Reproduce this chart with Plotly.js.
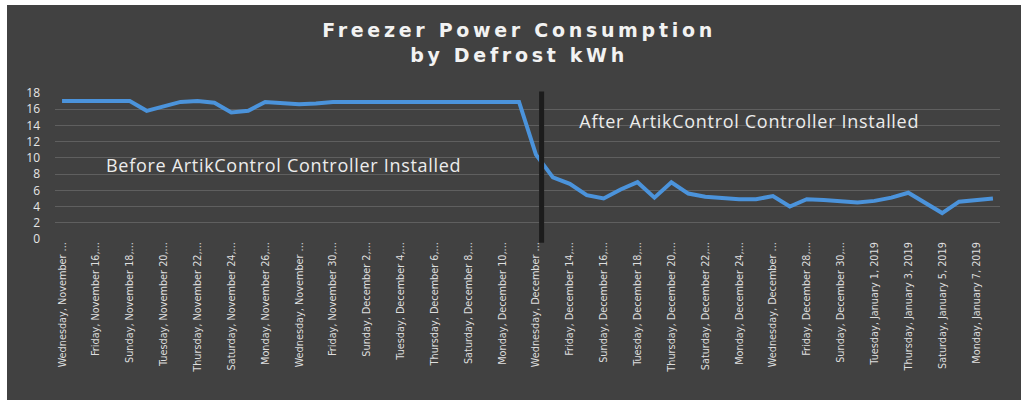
<!DOCTYPE html>
<html>
<head>
<meta charset="utf-8">
<script src="https://cdn.plot.ly/plotly-3.0.1.min.js"></script>
<style>
  html, body { margin: 0; padding: 0; background: #ffffff; width: 1021px; height: 403px; overflow: hidden; }
  #chart { position: absolute; left: 7px; top: 5px; width: 1014px; height: 395px; }
  #chart .gtitle { letter-spacing: 3.7px; }
  #chart .annotation-text { letter-spacing: 0.7px; }
</style>
</head>
<body>
<div id="chart"></div>
<script>
// Daily dates (Nov 14, 2018 – Jan 8, 2019)
const dates = [
  "2018-11-14","2018-11-15","2018-11-16","2018-11-17","2018-11-18","2018-11-19","2018-11-20",
  "2018-11-21","2018-11-22","2018-11-23","2018-11-24","2018-11-25","2018-11-26","2018-11-27",
  "2018-11-28","2018-11-29","2018-11-30","2018-12-01","2018-12-02","2018-12-03","2018-12-04",
  "2018-12-05","2018-12-06","2018-12-07","2018-12-08","2018-12-09","2018-12-10","2018-12-11",
  "2018-12-12","2018-12-13","2018-12-14","2018-12-15","2018-12-16","2018-12-17","2018-12-18",
  "2018-12-19","2018-12-20","2018-12-21","2018-12-22","2018-12-23","2018-12-24","2018-12-25",
  "2018-12-26","2018-12-27","2018-12-28","2018-12-29","2018-12-30","2018-12-31","2019-01-01",
  "2019-01-02","2019-01-03","2019-01-04","2019-01-05","2019-01-06","2019-01-07","2019-01-08"
];

// kWh per defrost
const kwh = [
  17.0, 17.0, 17.0, 17.0, 17.0, 15.8, 16.3,
  16.9, 17.0, 16.8, 15.6, 15.8, 16.9, 16.8,
  16.6, 16.7, 16.9, 16.9, 16.9, 16.9, 16.9,
  16.9, 16.8, 16.9, 16.9, 16.9, 16.9, 16.9,
  10.4, 7.6, 6.8, 5.4, 5.0, 6.1, 7.0,
  5.1, 7.0, 5.6, 5.2, 5.0, 4.9, 4.9,
  5.3, 4.0, 4.9, 4.8, 4.6, 4.5, 4.7,
  5.1, 5.7, 4.4, 3.2, 4.6, 4.8, 5.0
];

const tickDates = [
  "2018-11-14","2018-11-16","2018-11-18","2018-11-20","2018-11-22","2018-11-24","2018-11-26",
  "2018-11-28","2018-11-30","2018-12-02","2018-12-04","2018-12-06","2018-12-08","2018-12-10",
  "2018-12-12","2018-12-14","2018-12-16","2018-12-18","2018-12-20","2018-12-22","2018-12-24",
  "2018-12-26","2018-12-28","2018-12-30","2019-01-01","2019-01-03","2019-01-05","2019-01-07"
];
const tickLabels = [
  "Wednesday, November ...","Friday, November 16,...","Sunday, November 18,...","Tuesday, November 20,...",
  "Thursday, November 22,...","Saturday, November 24,...","Monday, November 26,...","Wednesday, November ...",
  "Friday, November 30,...","Sunday, December 2,...","Tuesday, December 4,...","Thursday, December 6,...",
  "Saturday, December 8,...","Monday, December 10,...","Wednesday, December ...","Friday, December 14,...",
  "Sunday, December 16,...","Tuesday, December 18,...","Thursday, December 20,...","Saturday, December 22,...",
  "Monday, December 24,...","Wednesday, December ...","Friday, December 28,...","Sunday, December 30,...",
  "Tuesday, January 1, 2019","Thursday, January 3, 2019","Saturday, January 5, 2019","Monday, January 7, 2019"
];

const yTicks = [0, 2, 4, 6, 8, 10, 12, 14, 16, 18];
const installDate = "2018-12-12 08:00";

const trace = {
  x: dates, y: kwh, type: "scatter", mode: "lines",
  line: { color: "#4b93db", width: 4 },
  hoverinfo: "x+y"
};

const layout = {
  width: 1014, height: 395,
  paper_bgcolor: "#414141", plot_bgcolor: "#414141",
  margin: { l: 48, r: 21, t: 88, b: 161 },
  showlegend: false,
  title: {
    text: "Freezer Power Consumption<br>by Defrost kWh",
    font: { family: "DejaVu Sans, sans-serif", size: 19, color: "#f2f2f2", weight: "bold" },
    x: 0.505, xanchor: "center", y: 0.918, yanchor: "top", yref: "container"
  },
  xaxis: {
    type: "date",
    range: ["2018-11-13 14:00", "2019-01-08 10:00"],
    tickmode: "array", tickvals: tickDates, ticktext: tickLabels,
    tickangle: -90,
    tickfont: { family: "Liberation Sans Narrow, DejaVu Sans Condensed, sans-serif", size: 10.8, color: "#dedede" },
    showgrid: false, zeroline: false, showline: false, ticks: "",
    fixedrange: true
  },
  yaxis: {
    range: [0, 18],
    tickmode: "array", tickvals: yTicks,
    tickfont: { family: "Open Sans, sans-serif", size: 12, color: "#e6e6e6" },
    ticklabelstandoff: 14,
    showgrid: true, gridcolor: "rgba(255,255,255,0.16)", gridwidth: 1,
    zeroline: false, showline: false, ticks: "",
    fixedrange: true
  },
  shapes: [{
    type: "line", xref: "x", yref: "paper",
    x0: installDate, x1: installDate, y0: -0.025, y1: 1.01,
    line: { color: "#1c1c1c", width: 5 }
  }],
  annotations: [
    {
      text: "Before ArtikControl Controller Installed",
      xref: "paper", yref: "paper", x: 0.242, y: 0.507,
      xanchor: "center", yanchor: "middle",
      showarrow: false,
      font: { family: "Open Sans, sans-serif", size: 18, color: "#ececec" }
    },
    {
      text: "After ArtikControl Controller Installed",
      xref: "paper", yref: "paper", x: 0.734, y: 0.808,
      xanchor: "center", yanchor: "middle",
      showarrow: false,
      font: { family: "Open Sans, sans-serif", size: 18, color: "#ececec" }
    }
  ]
};

Plotly.newPlot("chart", [trace], layout, { displayModeBar: false, staticPlot: true });
</script>
</body>
</html>
